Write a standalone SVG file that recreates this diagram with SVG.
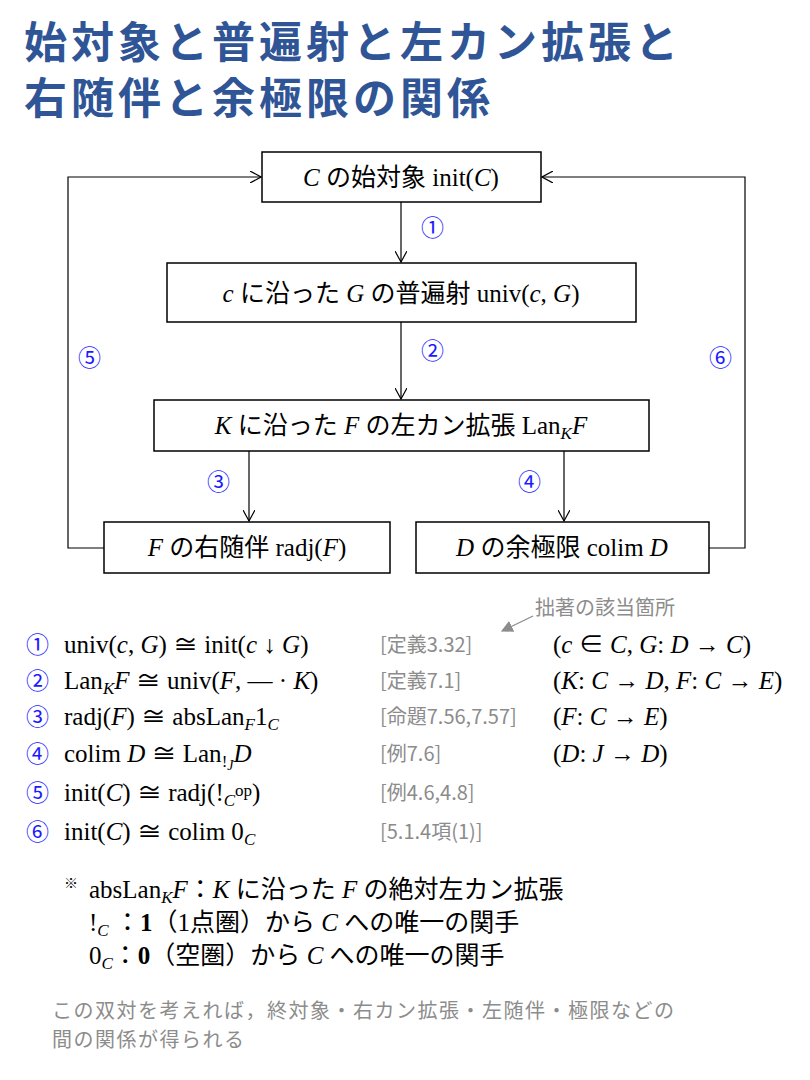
<svg xmlns="http://www.w3.org/2000/svg" width="810" height="1080" viewBox="0 0 810 1080">
<style>
.t{font-family:"Liberation Serif","Noto Sans CJK JP",serif;font-size:25px;fill:#000}
.i{font-style:italic}
.box{fill:#fff;stroke:#000;stroke-width:1.5}
.ln{fill:none;stroke:#000;stroke-width:1.2}
.num{font-family:"Noto Sans CJK JP",sans-serif;font-size:23px;fill:#1a1aff}
.g{font-family:"Noto Sans CJK JP","Liberation Sans",sans-serif;font-size:20px;fill:#8c8c8c}
.title{font-family:"Noto Sans CJK JP",sans-serif;font-size:43px;letter-spacing:4px;font-weight:bold;fill:#2f5597}
</style>
<defs>
<marker id="a" viewBox="0 0 12 12" refX="11" refY="6" markerWidth="12" markerHeight="12" orient="auto" markerUnits="userSpaceOnUse"><path d="M0,0 L11,6 L0,12" fill="none" stroke="#000" stroke-width="1.2"/></marker>
<marker id="ga" viewBox="0 0 10 10" refX="9" refY="5" markerWidth="12" markerHeight="12" orient="auto" markerUnits="userSpaceOnUse"><path d="M0,0 L10,5 L0,10Z" fill="#8c8c8c"/></marker>
</defs>
<text class="title" x="24" y="58">始対象と普遍射と左カン拡張と</text>
<text class="title" x="24" y="114">右随伴と余極限の関係</text>
<g id="connectors">
<line class="ln" x1="401" y1="202" x2="401" y2="262" marker-end="url(#a)"/>
<line class="ln" x1="401" y1="322" x2="401" y2="399" marker-end="url(#a)"/>
<line class="ln" x1="249" y1="451" x2="249" y2="521" marker-end="url(#a)"/>
<line class="ln" x1="564" y1="451" x2="564" y2="521" marker-end="url(#a)"/>
<polyline class="ln" points="104,548 68,548 68,177 261,177" marker-end="url(#a)"/>
<polyline class="ln" points="709,548 745,548 745,177 542,177" marker-end="url(#a)"/>
<text class="num" x="421" y="236">①</text>
<text class="num" x="421" y="359">②</text>
<text class="num" x="207" y="490">③</text>
<text class="num" x="518" y="490">④</text>
<text class="num" x="78" y="366">⑤</text>
<text class="num" x="709" y="366">⑥</text>
</g>
<g id="n1"><rect class="box" x="262" y="152" width="279" height="50"/><text class="t" x="401" y="186" text-anchor="middle"><tspan class="i">C</tspan> の始対象 init(<tspan class="i">C</tspan>)</text></g>
<g id="n2"><rect class="box" x="167" y="263" width="469" height="59"/><text class="t" x="401" y="302" text-anchor="middle"><tspan class="i">c</tspan> に沿った <tspan class="i">G</tspan> の普遍射 univ(<tspan class="i">c</tspan>, <tspan class="i">G</tspan>)</text></g>
<g id="n3"><rect class="box" x="154" y="400" width="495" height="51"/><text class="t" x="401" y="434" text-anchor="middle"><tspan class="i">K</tspan> に沿った <tspan class="i">F</tspan> の左カン拡張 Lan<tspan class="i" font-size="17" dy="5">K</tspan><tspan class="i" dy="-5">F</tspan></text></g>
<g id="n4"><rect class="box" x="104" y="522" width="286" height="51"/><text class="t" x="247" y="556" text-anchor="middle"><tspan class="i">F</tspan> の右随伴 radj(<tspan class="i">F</tspan>)</text></g>
<g id="n5"><rect class="box" x="416" y="522" width="293" height="51"/><text class="t" x="562" y="556" text-anchor="middle"><tspan class="i">D</tspan> の余極限 colim <tspan class="i">D</tspan></text></g>
<text class="g" x="535" y="615">拙著の該当箇所</text>
<line x1="533" y1="616" x2="502" y2="631" stroke="#8c8c8c" stroke-width="1.2" marker-end="url(#ga)"/>
<g id="formulas">
<text class="num" x="26" y="653" font-size="28">①</text>
<text class="t" x="64" y="653">univ(<tspan class="i">c</tspan>, <tspan class="i">G</tspan>) ≅ init(<tspan class="i">c</tspan> ↓ <tspan class="i">G</tspan>)</text>
<text class="num" x="26" y="689" font-size="28">②</text>
<text class="t" x="64" y="689">Lan<tspan class="i" font-size="17" dy="5">K</tspan><tspan class="i" dy="-5">F</tspan> ≅ univ(<tspan class="i">F</tspan>, — · <tspan class="i">K</tspan>)</text>
<text class="num" x="26" y="725" font-size="28">③</text>
<text class="t" x="64" y="725">radj(<tspan class="i">F</tspan>) ≅ absLan<tspan class="i" font-size="17" dy="5">F</tspan><tspan dy="-5">1</tspan><tspan class="i" font-size="17" dy="5">C</tspan></text>
<text class="num" x="26" y="762" font-size="28">④</text>
<text class="t" x="64" y="762">colim <tspan class="i">D</tspan> ≅ Lan<tspan font-size="17" dy="5">!</tspan><tspan class="i" font-size="14" dy="3">J</tspan><tspan class="i" dy="-8">D</tspan></text>
<text class="num" x="26" y="801" font-size="28">⑤</text>
<text class="t" x="64" y="801">init(<tspan class="i">C</tspan>) ≅ radj(!<tspan class="i" font-size="17" dy="5">C</tspan><tspan font-size="17" dy="-10">op</tspan><tspan dy="5">)</tspan></text>
<text class="num" x="26" y="840" font-size="28">⑥</text>
<text class="t" x="64" y="840">init(<tspan class="i">C</tspan>) ≅ colim 0<tspan class="i" font-size="17" dy="5">C</tspan></text>
</g>
<text class="g" x="380" y="652">[定義3.32]</text>
<text class="g" x="380" y="688">[定義7.1]</text>
<text class="g" x="380" y="724">[命題7.56,7.57]</text>
<text class="g" x="380" y="761">[例7.6]</text>
<text class="g" x="380" y="800">[例4.6,4.8]</text>
<text class="g" x="380" y="839">[5.1.4項(1)]</text>
<text class="t" x="553" y="653">(<tspan class="i">c</tspan> ∈ <tspan class="i">C</tspan>, <tspan class="i">G</tspan>: <tspan class="i">D</tspan> → <tspan class="i">C</tspan>)</text>
<text class="t" x="553" y="689">(<tspan class="i">K</tspan>: <tspan class="i">C</tspan> → <tspan class="i">D</tspan>, <tspan class="i">F</tspan>: <tspan class="i">C</tspan> → <tspan class="i">E</tspan>)</text>
<text class="t" x="553" y="725">(<tspan class="i">F</tspan>: <tspan class="i">C</tspan> → <tspan class="i">E</tspan>)</text>
<text class="t" x="553" y="762">(<tspan class="i">D</tspan>: <tspan class="i">J</tspan> → <tspan class="i">D</tspan>)</text>
<text x="64" y="888" font-size="14" font-family="Noto Sans CJK JP,sans-serif">※</text>
<text class="t" x="89" y="898">absLan<tspan class="i" font-size="17" dy="5">K</tspan><tspan class="i" dy="-5">F</tspan>：<tspan class="i">K</tspan> に沿った <tspan class="i">F</tspan> の絶対左カン拡張</text>
<text class="t" x="89" y="931">!<tspan class="i" font-size="17" dy="5">C</tspan><tspan dy="-5"> ：</tspan><tspan font-weight="bold">1</tspan>（1点圏）から <tspan class="i">C</tspan> への唯一の関手</text>
<text class="t" x="89" y="964">0<tspan class="i" font-size="17" dy="5">C</tspan><tspan dy="-5">：</tspan><tspan font-weight="bold">0</tspan>（空圏）から <tspan class="i">C</tspan> への唯一の関手</text>
<text class="g" x="52" y="1018" font-size="23" letter-spacing="1.5">この双対を考えれば，終対象・右カン拡張・左随伴・極限などの</text>
<text class="g" x="52" y="1047" font-size="23" letter-spacing="1.5">間の関係が得られる</text>
</svg>
